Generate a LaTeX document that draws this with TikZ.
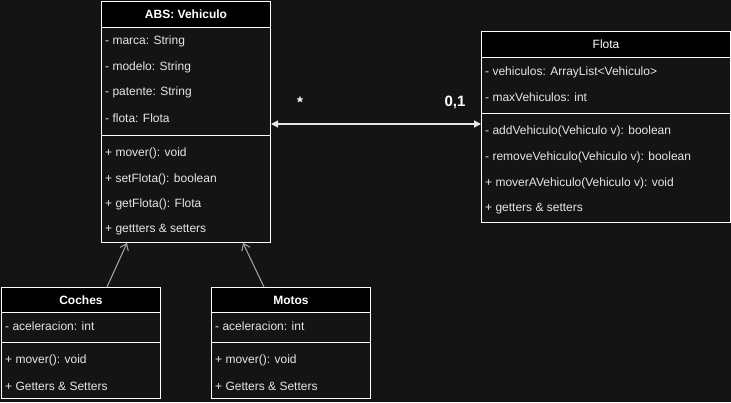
\documentclass[tikz,border=0pt]{standalone}
\usepackage{fontspec}
\setmainfont{Liberation Sans}
\usetikzlibrary{arrows.meta}
\definecolor{bg}{HTML}{141414}
\definecolor{txt}{HTML}{E6E6E6}
\definecolor{inh}{HTML}{A8A8A8}
\begin{document}
\begin{tikzpicture}[x=1pt,y=-1pt,
  hdr/.style={draw=white, line width=1pt, fill=black, text=white, anchor=north west,
    inner sep=0pt, font=\fontsize{12}{14}\selectfont\bfseries},
  comp/.style={draw=white, line width=1pt, fill=bg, anchor=north west, inner sep=0pt},
  row/.style={anchor=west, text=txt, inner sep=0pt, yshift=-1pt, font=\fontsize{12}{14}\selectfont},
  mult/.style={text=white, inner sep=0pt, font=\fontsize{15}{17}\selectfont\bfseries},
  inherit/.style={draw=inh, line width=1pt, -{Straight Barb[length=6pt,width=9pt]}},
  assoc/.style={draw=txt, line width=1.2pt, {Triangle[length=7pt,width=7pt]}-{Triangle[length=7pt,width=7pt]}}
]
\fill[bg] (0,0) rectangle (731,402);
\useasboundingbox (0,0) rectangle (731,402);

% ---- ABS: Vehiculo ----
\node[hdr, minimum width=169, minimum height=26] (veh) at (101,1) {ABS: Vehiculo};
\node[comp, minimum width=169, minimum height=108] (vehA) at (101,27) {};
\node[comp, minimum width=169, minimum height=107] (vehM) at (101,135) {};
\node[row] (v1) at (105,40) {- marca: String};
\node[row] (v2) at (105,66) {- modelo: String};
\node[row] (v3) at (105,91) {- patente: String};
\node[row] (v4) at (105,117) {- flota: Flota};
\node[row] (v5) at (105,152) {+ mover(): void};
\node[row] (v6) at (105,178) {+ setFlota(): boolean};
\node[row] (v7) at (105,203) {+ getFlota(): Flota};
\node[row] (v8) at (105,229) {+ gettters \& setters};

% ---- Flota ----
\node[hdr, minimum width=249, minimum height=26, font=\fontsize{12}{14}\selectfont] (flo) at (481,31) {Flota};
\node[comp, minimum width=249, minimum height=56] (floA) at (481,57) {};
\node[comp, minimum width=249, minimum height=109] (floM) at (481,113) {};
\node[row] (f1) at (485,71) {- vehiculos: ArrayList<Vehiculo>};
\node[row] (f2) at (485,96) {- maxVehiculos: int};
\node[row] (f3) at (485,130) {- addVehiculo(Vehiculo v): boolean};
\node[row] (f4) at (485,156) {- removeVehiculo(Vehiculo v): boolean};
\node[row] (f5) at (485,182) {+ moverAVehiculo(Vehiculo v): void};
\node[row] (f6) at (485,208) {+ getters \& setters};

% ---- Coches ----
\node[hdr, minimum width=159, minimum height=25] (coc) at (1,287) {Coches};
\node[comp, minimum width=159, minimum height=30] (cocA) at (1,312) {};
\node[comp, minimum width=159, minimum height=56] (cocM) at (1,342) {};
\node[row] (c1) at (5,325) {- aceleracion: int};
\node[row] (c2) at (5,359) {+ mover(): void};
\node[row] (c3) at (5,385) {+ Getters \& Setters};

% ---- Motos ----
\node[hdr, minimum width=159, minimum height=25] (mot) at (211,287) {Motos};
\node[comp, minimum width=159, minimum height=30] (motA) at (211,312) {};
\node[comp, minimum width=159, minimum height=56] (motM) at (211,342) {};
\node[row] (m1) at (215,325) {- aceleracion: int};
\node[row] (m2) at (215,359) {+ mover(): void};
\node[row] (m3) at (215,385) {+ Getters \& Setters};

% ---- inheritance ----
\coordinate (cocTop) at (107,287);
\coordinate (motTop) at (264,287);
\draw[inherit] (cocTop) -- (vehM.south west -| 127,0);
\draw[inherit] (motTop) -- (vehM.south west -| 243,0);

% ---- association ----
\coordinate (assocY) at (0,124);
\draw[assoc] (vehA.east |- assocY) -- (floM.west |- assocY);
\node[mult] (m-many) at (300,102) {*};
\node[mult] (m-one) at (455,102) {0,1};
\end{tikzpicture}
\end{document}
